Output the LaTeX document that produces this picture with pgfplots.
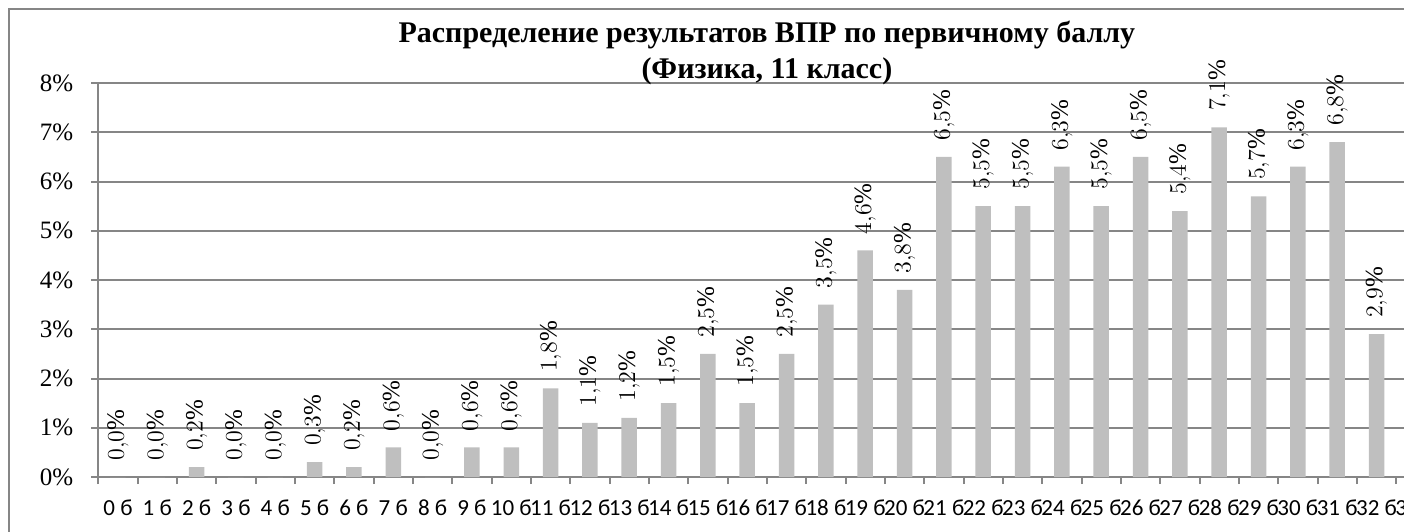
\documentclass[border=0pt]{standalone}
\usepackage{fontspec}
\setmainfont{Liberation Serif}
\newfontfamily\calibri{Carlito}
\usepackage{pgfplots}
\pgfplotsset{compat=1.18}
\definecolor{bargray}{RGB}{191,191,191}
\definecolor{gridgray}{RGB}{134,134,134}
\begin{document}
\begin{tikzpicture}
\begin{axis}[
  at={(0,0)}, anchor=south west,
  scale only axis,
  width=668.6pt, height=197pt,
  xmin=-0.5, xmax=33.5,
  ymin=0, ymax=8,
  ytick={0,...,8},
  yticklabels={0\%,1\%,2\%,3\%,4\%,5\%,6\%,7\%,8\%},
  xtick={-0.5,0.5,...,33.5},
  xticklabels={0 б,1 б,2 б,3 б,4 б,5 б,6 б,7 б,8 б,9 б,10 б,11 б,12 б,13 б,14 б,15 б,16 б,17 б,18 б,19 б,20 б,21 б,22 б,23 б,24 б,25 б,26 б,27 б,28 б,29 б,30 б,31 б,32 б,33 б,{}},
  axis lines*=left,
  axis line style={gridgray, line width=1pt},
  ymajorgrids,
  major grid style={gridgray, line width=1pt},
  tick align=outside,
  major tick length=3.5pt,
  tick style={gridgray, line width=1pt},
  yticklabel style={font=\fontsize{12.5}{14}\selectfont, xshift=-5.5pt},
  xticklabel style={font=\calibri\fontsize{11.5}{13}\selectfont, anchor=base, xshift=9.83pt, yshift=-15.5pt},
  ybar, bar width=7.75pt,
  nodes near coords={\pgfmathprintnumber[fixed,fixed zerofill,precision=1,use comma]{\pgfplotspointmeta}\%},
  every node near coord/.append style={rotate=90, anchor=west, inner xsep=8pt, inner ysep=0pt, font=\fontsize{12.5}{14}\selectfont, text=black},
  title={Распределение результатов ВПР по первичному баллу\\(Физика, 11 класс)},
  title style={at={(0.5,1)}, anchor=south, align=center, inner sep=0pt, font=\bfseries\fontsize{15}{18}\selectfont, yshift=-7pt},
  clip=false,
]
\addplot[fill=bargray, draw=none] coordinates {
(0,0.0) (1,0.0) (2,0.2) (3,0.0) (4,0.0) (5,0.3) (6,0.2) (7,0.6) (8,0.0) (9,0.6)
(10,0.6) (11,1.8) (12,1.1) (13,1.2) (14,1.5) (15,2.5) (16,1.5) (17,2.5) (18,3.5) (19,4.6)
(20,3.8) (21,6.5) (22,5.5) (23,5.5) (24,6.3) (25,5.5) (26,6.5) (27,5.4) (28,7.1) (29,5.7)
(30,6.3) (31,6.8) (32,2.9)
};
\end{axis}
\draw[gridgray, line width=0.75pt] (-44.65pt,-40pt) |- (720pt,234pt);
\pgfresetboundingbox
\path[use as bounding box] (-49.15pt,-27pt) rectangle (652.85pt,238.5pt);
\end{tikzpicture}
\end{document}
